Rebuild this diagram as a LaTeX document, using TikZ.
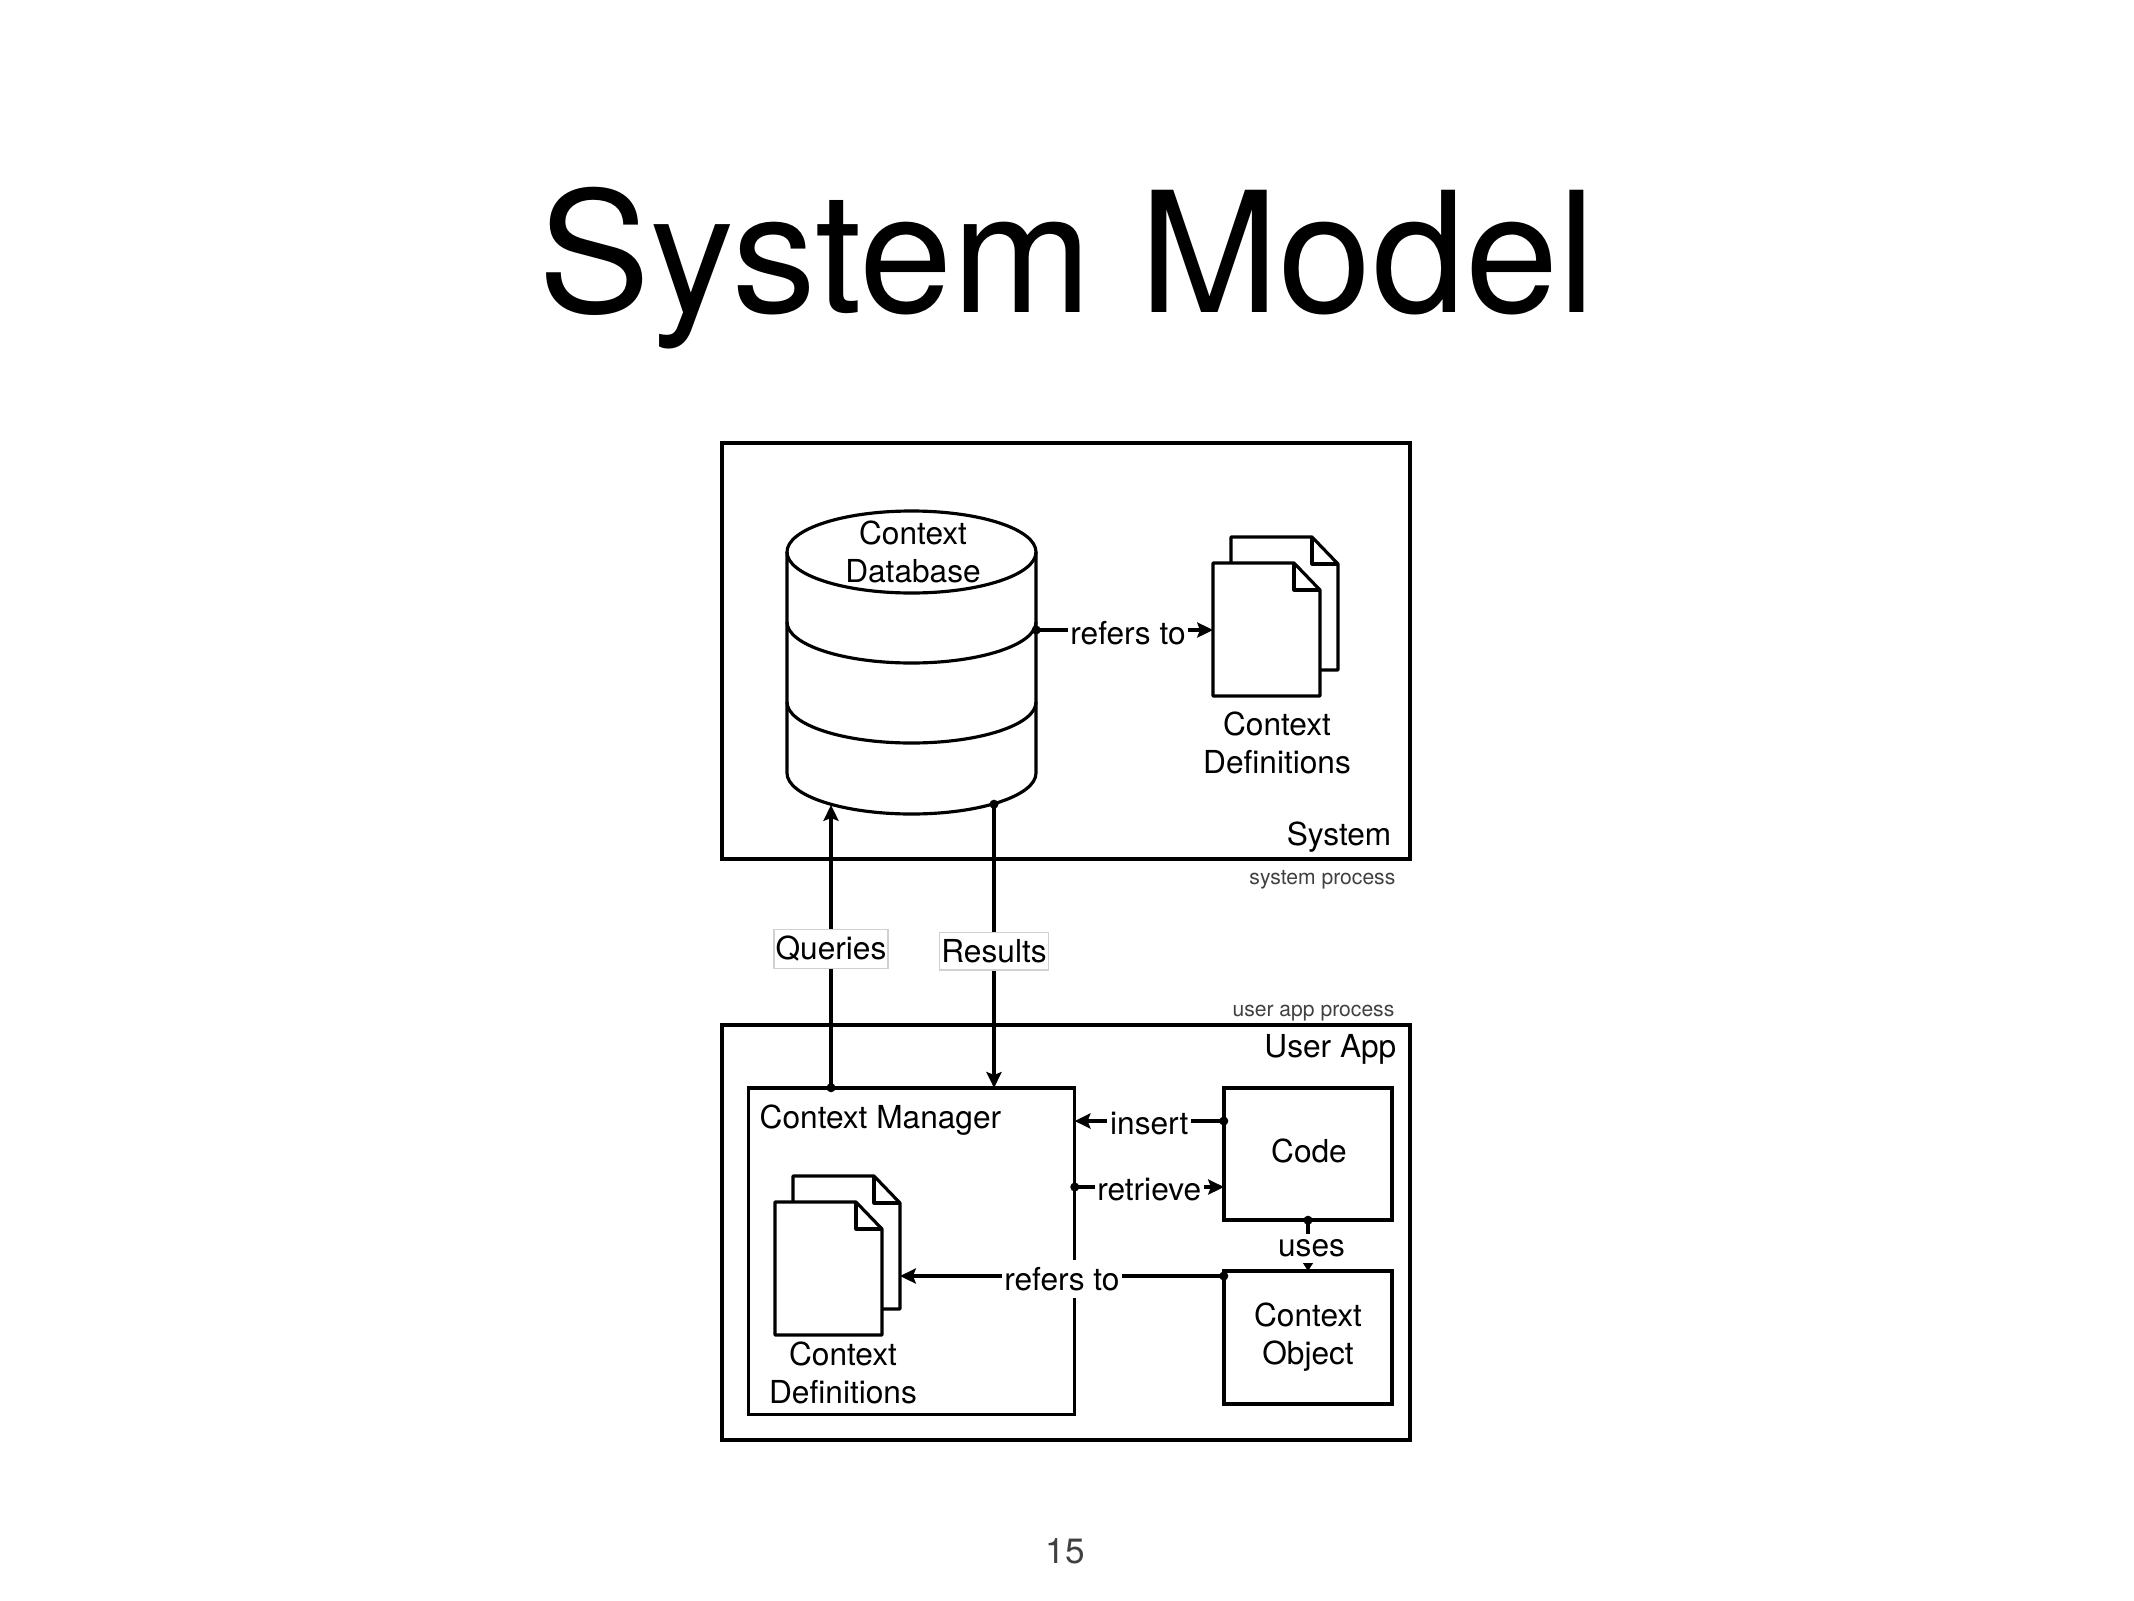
\documentclass[tikz,border=0pt]{standalone}
\usepackage{fontspec}
\setmainfont{TeX Gyre Heros}
\usetikzlibrary{arrows.meta}

\tikzset{
	plainbox/.style={draw, line width=0.9pt, inner sep=0pt, outer sep=0pt},
	outerbox/.style={plainbox, line width=1.1pt},
	caption/.style={font=\fontsize{9}{10.7}\selectfont, align=center, inner sep=0pt},
	tinycaption/.style={font=\fontsize{6}{7}\selectfont, text=black!75, inner sep=0pt},
	linklabel/.style={caption, fill=white, inner xsep=0.8pt, inner ysep=2pt, yshift=-0.8pt},
	tagbox/.style={caption, fill=white, draw=black!18, line width=0.4pt, inner xsep=0.5pt, inner ysep=2pt},
	dotlink/.style={line width=0.9pt, shorten <=-1.2pt, {Circle[length=2.5pt]}-{Stealth[length=4.5pt,width=4.3pt,inset=0.8pt]}},
	sheet/.pic={
		\draw[line width=0.9pt, fill=white, line join=round] (0,0) -- (81,0) -- (107,27) -- (107,133) -- (0,133) -- cycle;
		\draw[line width=0.9pt, line join=round] (81,0) -- (81,27) -- (107,27);
	}
}

\begin{document}
\begin{tikzpicture}[x=0.01cm, y=-0.01cm]
	\useasboundingbox (0,0) rectangle (2134,1600);

	\node[font=\fontsize{47.7}{50}\selectfont, anchor=base, inner sep=0pt] (title) at (1067,312) {System Model};

	% upper process
	\node[outerbox, minimum width=6.88cm, minimum height=4.15cm] (system) at (1066,651) {};
	\node[caption, anchor=east] (systemname) at (1392,837) {System};
	\node[tinycaption, anchor=east] (systemproc) at (1396,880) {system process};

	% database
	\filldraw[line width=0.9pt, fill=white] (787,552) -- (787,773) arc [start angle=180, end angle=360, x radius=124.5, y radius=-41] -- (1036,552);
	\draw[line width=0.9pt] (911.5,552) ellipse [x radius=124.5, y radius=41];
	\draw[line width=0.9pt] (787,622) arc [start angle=180, end angle=360, x radius=124.5, y radius=-41];
	\draw[line width=0.9pt] (787,702) arc [start angle=180, end angle=360, x radius=124.5, y radius=-41];
	\node[caption] (dbname) at (913,552) {Context\\Database};
	\coordinate (dbside) at (1036,630);
	\coordinate (dbquery) at (831,805);
	\coordinate (dbresult) at (994,804);

	% definitions next to the database
	\path (1231,537) pic {sheet};
	\path (1213,563) pic {sheet};
	\node[caption] (defsupper) at (1277,743) {Context\\Definitions};
	\coordinate (defsupperin) at (1213,630);

	% lower process
	\node[tinycaption, anchor=east] (appproc) at (1395,1013) {user app process};
	\node[outerbox, minimum width=6.88cm, minimum height=4.15cm] (userapp) at (1066,1232.5) {};
	\node[caption, anchor=east] (appname) at (1397,1049) {User App};

	\node[plainbox, minimum width=3.26cm, minimum height=3.26cm] (manager) at (911.5,1251) {};
	\node[caption, anchor=west] (managername) at (759,1120) {Context Manager};
	\path (793,1176) pic {sheet};
	\path (775,1202) pic {sheet};
	\node[caption] (defslower) at (843,1373) {Context\\Definitions};
	\coordinate (defslowerin) at (900,1276);

	\node[plainbox, minimum width=1.68cm, minimum height=1.32cm] (code) at (1308,1154) {};
	\node[caption] (codename) at (1309,1151) {Code};
	\node[plainbox, minimum width=1.68cm, minimum height=1.33cm] (object) at (1308,1337.5) {};
	\node[caption] (objectname) at (1308,1337) {Context\\Object};

	% connectors
	\draw[dotlink] (dbside) -- node[linklabel, pos=0.52] (dbrefers) {refers to} (defsupperin);
	\draw[dotlink] (manager.north -| dbquery) -- node[tagbox, pos=0.491] (queries) {Queries} (dbquery);
	\draw[dotlink] (dbresult) -- node[tagbox, pos=0.518] (results) {Results} (manager.north -| dbresult);
	\draw[dotlink] (code.west |- 0,1121) -- node[linklabel, pos=0.5] (insert) {insert} (manager.east |- 0,1121);
	\draw[dotlink] (manager.east |- 0,1187) -- node[linklabel, pos=0.5] (retrieve) {retrieve} (code.west |- 0,1187);
	\draw[dotlink, {Circle[length=2.5pt]}-{Stealth[length=3pt,width=3.8pt,inset=0.5pt]}] (code.south) -- node[linklabel, pos=0.5, xshift=1pt, inner ysep=1.6pt] (uses) {uses} (object.north);
	\draw[dotlink] (code.west |- 0,1276) -- node[linklabel, pos=0.5] (appliesto) {refers to} (defslowerin);

	\node[font=\fontsize{10}{12}\selectfont, text=black!75, inner sep=0pt] (pagenum) at (1065,1551) {15};
\end{tikzpicture}
\end{document}
